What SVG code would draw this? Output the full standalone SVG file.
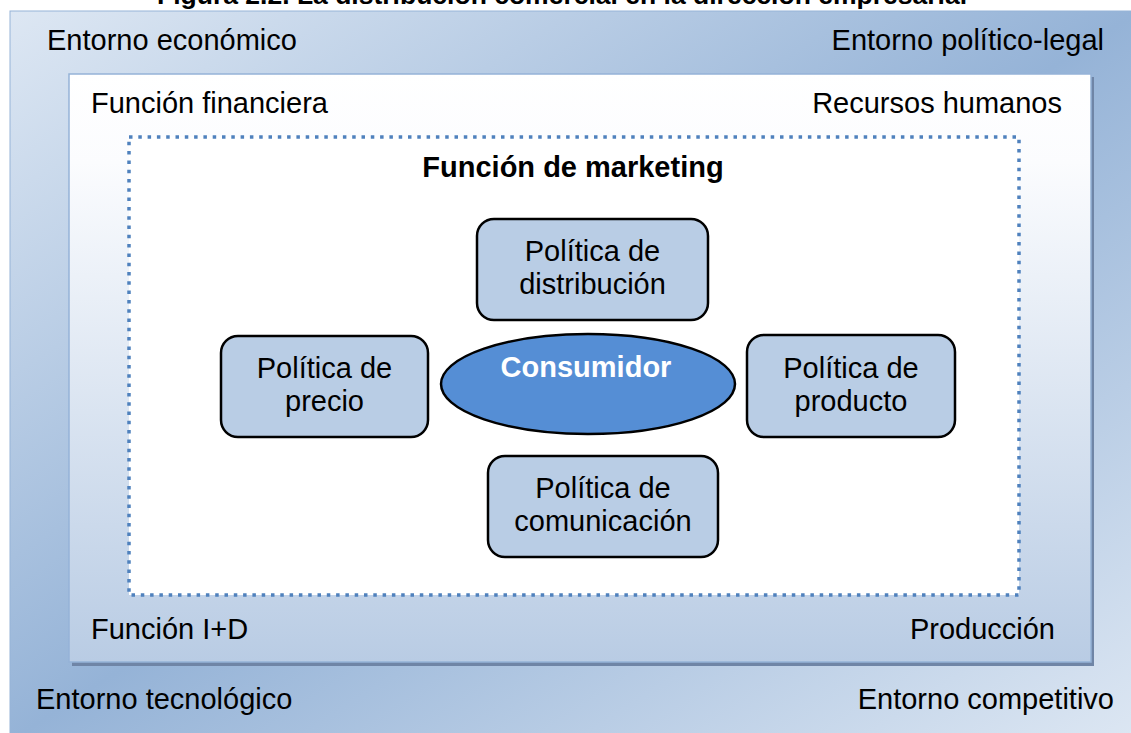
<svg xmlns="http://www.w3.org/2000/svg" width="1131" height="733" viewBox="0 0 1131 733">
  <defs>
    <linearGradient id="gOuter" x1="0" y1="0" x2="1" y2="1">
      <stop offset="0" stop-color="#dde7f3"/>
      <stop offset="0.5" stop-color="#95b3d7"/>
      <stop offset="1" stop-color="#dde7f3"/>
    </linearGradient>
    <linearGradient id="gInner" x1="0" y1="0" x2="0" y2="1">
      <stop offset="0" stop-color="#ffffff"/>
      <stop offset="0.15" stop-color="#fbfcfe"/>
      <stop offset="1" stop-color="#b9cce4"/>
    </linearGradient>
    <style>
      text { font-family: "Liberation Sans", Arial, sans-serif; font-size: 29px; fill: #000; }
      .b { font-weight: bold; }
      .m { text-anchor: middle; }
      .e { text-anchor: end; }
      .box { fill: #b9cde5; stroke: #000; stroke-width: 2.5; }
      .w { fill: #fff; }
    </style>
  </defs>
  <rect width="1131" height="733" fill="#fff"/>
  <g id="title">
    <text class="b" x="157" y="4" textLength="810" lengthAdjust="spacingAndGlyphs" style="font-size:26.5px">Figura 2.2. La distribución comercial en la dirección empresarial</text>
  </g>
  <g id="entorno">
    <rect x="10" y="11" width="1130" height="730" fill="url(#gOuter)" stroke="#95b3d7" stroke-width="1"/>
    <text x="47" y="50">Entorno económico</text>
    <text class="e" x="1104" y="50">Entorno político-legal</text>
    <text x="36" y="709">Entorno tecnológico</text>
    <text class="e" x="1114" y="709">Entorno competitivo</text>
  </g>
  <g id="empresa">
    <rect x="72" y="77" width="1022" height="589" fill="#6f85a6"/>
    <rect x="69" y="74" width="1022" height="588" fill="url(#gInner)" stroke="#95b3d7" stroke-width="1.5"/>
    <text x="91" y="113">Función financiera</text>
    <text class="e" x="1062" y="113">Recursos humanos</text>
    <text x="91" y="639">Función I+D</text>
    <text class="e" x="1055" y="639">Producción</text>
  </g>
  <g id="marketing">
    <rect x="129" y="137" width="890" height="458" fill="#fff" stroke="#4f81bd" stroke-width="3.5" stroke-dasharray="3.5 5.8"/>
    <text class="b m" x="573" y="177">Función de marketing</text>
  </g>
  <g id="connectors"></g>
  <g id="n-distribucion">
    <rect class="box" x="477" y="219" width="231" height="101" rx="17"/>
    <text class="m" x="592.5" y="261">Política de</text>
    <text class="m" x="592.5" y="294">distribución</text>
  </g>
  <g id="n-precio">
    <rect class="box" x="221" y="336" width="207" height="101" rx="17"/>
    <text class="m" x="324.5" y="378">Política de</text>
    <text class="m" x="324.5" y="411">precio</text>
  </g>
  <g id="n-producto">
    <rect class="box" x="747" y="335" width="208" height="102" rx="17"/>
    <text class="m" x="851" y="378">Política de</text>
    <text class="m" x="851" y="411">producto</text>
  </g>
  <g id="n-comunicacion">
    <rect class="box" x="488" y="456" width="230" height="101" rx="17"/>
    <text class="m" x="603" y="498">Política de</text>
    <text class="m" x="603" y="531">comunicación</text>
  </g>
  <g id="n-consumidor">
    <ellipse cx="588" cy="384" rx="147" ry="50" fill="#558ed5" stroke="#000" stroke-width="2.5"/>
    <text class="b m w" x="586" y="377">Consumidor</text>
  </g>
</svg>
